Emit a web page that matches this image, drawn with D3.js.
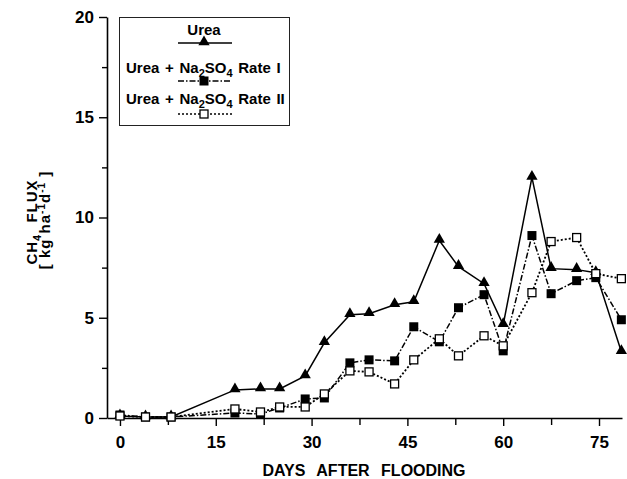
<!DOCTYPE html>
<html>
<head>
<meta charset="utf-8">
<script src="https://cdn.jsdelivr.net/npm/d3@7"></script>
<style>
  html, body { margin: 0; padding: 0; background: #fff; }
  svg { display: block; }
  text { font-family: "Liberation Sans", Arial, Helvetica, sans-serif; font-weight: bold; fill: #000; }
</style>
</head>
<body>
<svg id="chart" width="627" height="479"></svg>
<script>
// ---- data ----
const days = [0, 4, 8, 18, 22, 25, 29, 32, 36, 39, 43, 46, 50, 53, 57, 60, 64.5, 67.5, 71.5, 74.5, 78.5];
const urea      = [0.1, 0.05, 0.05, 1.4, 1.45, 1.45, 2.1, 3.75, 5.15, 5.2, 5.65, 5.8, 8.85, 7.55, 6.7, 4.65, 12.0, 7.45, 7.4, 7.25, 3.3];
const urea_rate1 = [0.15, 0.05, 0.05, 0.25, 0.2, 0.5, 0.95, 1.0, 2.75, 2.9, 2.85, 4.55, 3.8, 5.5, 6.15, 3.35, 9.1, 6.2, 6.85, 7.0, 4.9];
const urea_rate2 = [0.1, 0.05, 0.05, 0.45, 0.3, 0.55, 0.55, 1.2, 2.35, 2.3, 1.7, 2.9, 3.95, 3.1, 4.1, 3.6, 6.25, 8.8, 9.0, 7.2, 6.95];
const xTicks = [0, 15, 30, 45, 60, 75];
const xMinorTicks = [7.5, 22.5, 37.5, 52.5, 67.5];
const yTicks = [0, 5, 10, 15, 20];
const yMinorTicks = [2.5, 7.5, 12.5, 17.5];
const xTitle = "DAYS AFTER FLOODING";

const svg = d3.select("#chart");
const x = d3.scaleLinear().domain([-2.03, 78.6]).range([107, 622]);
const y = d3.scaleLinear().domain([0, 20]).range([418, 17]);

// ---- axes ----
svg.append("g").attr("transform", "translate(0,418)")
  .call(d3.axisBottom(x).tickValues(xTicks).tickSize(8).tickSizeOuter(0).tickPadding(10).tickFormat(d3.format("d")));
const gxm = svg.append("g").attr("transform", "translate(0,418)")
  .call(d3.axisBottom(x).tickValues(xMinorTicks).tickSize(7).tickSizeOuter(0).tickFormat(""));
gxm.select(".domain").remove();
svg.append("g").attr("transform", "translate(107,0)")
  .call(d3.axisLeft(y).tickValues(yTicks).tickSize(8).tickSizeOuter(0).tickPadding(5).tickFormat(d3.format("d")));
const gym = svg.append("g").attr("transform", "translate(107,0)")
  .call(d3.axisLeft(y).tickValues(yMinorTicks).tickSize(5).tickSizeOuter(0).tickFormat(""));
gym.select(".domain").remove();
svg.selectAll(".domain").attr("stroke", "#000").attr("stroke-width", 1.6);
svg.selectAll(".tick line").attr("stroke", "#000").attr("stroke-width", 1.4);
svg.selectAll(".tick text").style("font-size", "17px").style("font-family", "'Liberation Sans', Arial, sans-serif").style("font-weight", "bold");

// x title
svg.append("text").attr("x", 364).attr("y", 476).attr("text-anchor", "middle")
  .style("font-size", "16px").style("word-spacing", "7px").text(xTitle);

// y title (two rotated lines)
const yl1 = svg.append("text").attr("transform", "translate(37,222) rotate(-90)")
  .attr("text-anchor", "middle").style("font-size", "15px").style("letter-spacing", "1px").style("word-spacing", "6px");
yl1.append("tspan").text("CH");
yl1.append("tspan").attr("dy", 4).style("font-size", "11px").text("4");
yl1.append("tspan").attr("dy", -4).text(" FLUX");
const yl2 = svg.append("text").attr("transform", "translate(50,220) rotate(-90)")
  .attr("text-anchor", "middle").style("font-size", "15px").style("letter-spacing", "1px");
yl2.append("tspan").text("[ kg ha");
yl2.append("tspan").attr("dy", -5).style("font-size", "10px").text("-1");
yl2.append("tspan").attr("dy", 5).text("d");
yl2.append("tspan").attr("dy", -5).style("font-size", "10px").text("-1");
yl2.append("tspan").attr("dy", 5).text(" ]");

// ---- series ----
const series = [
  { name: "Urea", values: urea, dash: null, marker: "tri" },
  { name: "Urea + Na2SO4 Rate I", values: urea_rate1, dash: "6,2,1.5,2", marker: "fsq" },
  { name: "Urea + Na2SO4 Rate II", values: urea_rate2, dash: "2,2", marker: "osq" }
];
const line = d3.line().x(d => x(d[0])).y(d => y(d[1]));

function drawMarker(g, type, cx, cy) {
  if (type === "tri") {
    g.append("path").attr("d", d3.symbol().type(d3.symbolTriangle).size(55)())
      .attr("transform", `translate(${cx},${cy - 1})`).attr("fill", "#000");
  } else if (type === "fsq") {
    g.append("rect").attr("x", cx - 4.5).attr("y", cy - 4.5).attr("width", 9).attr("height", 9).attr("fill", "#000");
  } else {
    g.append("rect").attr("x", cx - 4).attr("y", cy - 4).attr("width", 8).attr("height", 8)
      .attr("fill", "#fff").attr("stroke", "#000").attr("stroke-width", 1.3);
  }
}

series.forEach(s => {
  const pts = days.map((d, i) => [d, s.values[i]]);
  const g = svg.append("g");
  g.append("path").datum(pts).attr("d", line).attr("fill", "none").attr("stroke", "#000")
    .attr("stroke-width", s.marker === "osq" ? 1.8 : 1.5)
    .attr("stroke-dasharray", s.dash);
  pts.forEach(p => drawMarker(g, s.marker, x(p[0]), y(p[1])));
});

// ---- legend ----
const lg = svg.append("g");
lg.append("rect").attr("x", 119.5).attr("y", 17.5).attr("width", 170).attr("height", 108)
  .attr("fill", "#fff").attr("stroke", "#222").attr("stroke-width", 1);
lg.append("text").attr("x", 204).attr("y", 35).attr("text-anchor", "middle").style("font-size", "15px").text("Urea");
function naText(yy, rate) {
  const t = lg.append("text").attr("x", 126).attr("y", yy).style("font-size", "15px").style("word-spacing", "1.5px");
  t.append("tspan").text("Urea + Na");
  t.append("tspan").attr("dy", 4).style("font-size", "11px").text("2");
  t.append("tspan").attr("dy", -4).text("SO");
  t.append("tspan").attr("dy", 4).style("font-size", "11px").text("4");
  t.append("tspan").attr("dy", -4).text(" Rate " + rate);
}
naText(73, "I");
naText(104, "II");
const legRows = [{ yy: 43, s: series[0] }, { yy: 81, s: series[1] }, { yy: 114, s: series[2] }];
legRows.forEach(r => {
  lg.append("line").attr("x1", 178).attr("x2", 232).attr("y1", r.yy).attr("y2", r.yy)
    .attr("stroke", "#000").attr("stroke-width", 1.4).attr("stroke-dasharray", r.s.dash);
  drawMarker(lg, r.s.marker, 204, r.yy);
});
</script>
</body>
</html>
